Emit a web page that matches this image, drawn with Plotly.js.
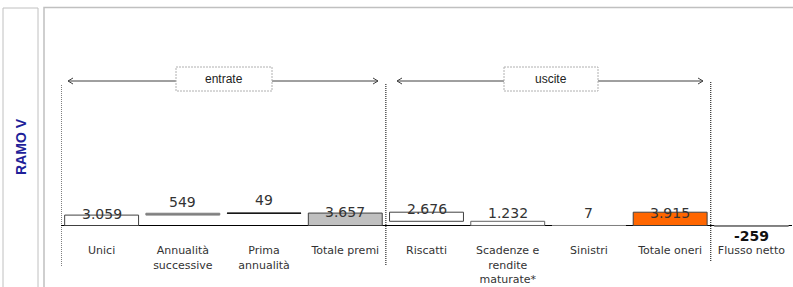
<!DOCTYPE html>
<html>
<head>
<meta charset="utf-8">
<script src="https://cdn.plot.ly/plotly-3.0.1.min.js"></script>
<style>html,body{margin:0;padding:0;background:#fff;}#chart{width:793px;height:287px;}</style>
</head>
<body>
<div id="chart"></div>
<script>
// ---- data ----
const categories = ["Unici", "Annualità<br>successive", "Prima<br>annualità", "Totale premi",
                    "Riscatti", "Scadenze e<br>rendite<br>maturate*", "Sinistri", "Totale oneri", "Flusso netto"];
const values = [3059, 549, 49, 3657, 2676, 1232, 7, 3915, -259];
const valueLabels = ["3.059", "549", "49", "3.657", "2.676", "1.232", "7", "3.915", "-259"];
const groupLabels = ["entrate", "uscite"];
const panelTitle = "RAMO V";

// ---- bases computed waterfall-style ----
const bases = new Array(values.length).fill(0);
let runUp = 0;
for (let i = 0; i < 3; i++) { bases[i] = runUp; runUp += values[i]; }
bases[3] = 0;
let runDown = values[7];
for (let i = 4; i < 7; i++) { runDown -= values[i]; bases[i] = Math.max(runDown, 0); }
bases[7] = 0; bases[8] = 0;

// ---- styles ----
const fills = ['#ffffff','#808080','#000000','#c0c0c0','#ffffff','#ffffff','#808080','#ff6600','#808080'];
const edges = ['#404040','#808080','#000000','#404040','#404040','#606060','#808080','#404040','#808080'];
const labelShift = [1, 11, 13, 1, 3, 8, 12, -1, -10];

const W = 793, H = 287;
const M = {l: 61, r: 1, t: 20, b: 55};
const PW = W - M.l - M.r, PH = H - M.t - M.b;
const px2x = p => (p - M.l) / PW;
const py2y = p => (H - M.b - p) / PH;

const trace = {
  type: 'bar',
  x: categories,
  y: values,
  base: bases,
  marker: {color: fills, line: {color: edges, width: 1}},
  hoverinfo: 'none'
};

const annotations = categories.map((c, i) => {
  const isNeg = values[i] < 0;
  return {
    x: c, y: bases[i] + values[i],
    xref: 'x', yref: 'y', showarrow: false,
    text: isNeg ? '<b>' + valueLabels[i] + '</b>' : valueLabels[i],
    font: {family: 'DejaVu Sans', size: 14, color: isNeg ? '#111' : '#333'},
    xanchor: 'center', yanchor: 'middle', yshift: labelShift[i]
  };
});

// group labels
const boxes = [[176, 67, 272, 91], [504, 67, 598, 91]];
boxes.forEach((b, i) => {
  annotations.push({
    x: px2x((b[0] + b[2]) / 2), y: py2y((b[1] + b[3]) / 2), xref: 'paper', yref: 'paper',
    showarrow: false, text: groupLabels[i],
    font: {family: 'Liberation Sans', size: 12, color: '#222'},
    xanchor: 'center', yanchor: 'middle'
  });
});
annotations.push({
  x: px2x(21), y: py2y(147), xref: 'paper', yref: 'paper', showarrow: false,
  text: '<b>' + panelTitle + '</b>', textangle: -90,
  font: {family: 'Liberation Sans', size: 14, color: '#1f1f99'},
  xanchor: 'center', yanchor: 'middle'
});

const shapes = [];
const pline = (x0, y0, x1, y1, color, width, dash) => shapes.push({
  type: 'line', xref: 'paper', yref: 'paper',
  x0: px2x(x0), y0: py2y(y0), x1: px2x(x1), y1: py2y(y1),
  line: {color: color, width: width, dash: dash || 'solid'}
});
// panels
shapes.push({type: 'rect', xref: 'paper', yref: 'paper', x0: px2x(3), x1: px2x(38), y0: py2y(8), y1: py2y(300),
  line: {color: '#c0c0c0', width: 1}, fillcolor: 'rgba(0,0,0,0)'});
shapes.push({type: 'rect', xref: 'paper', yref: 'paper', x0: px2x(44), x1: px2x(810), y0: py2y(7.5), y1: py2y(300),
  line: {color: '#c0c0c0', width: 1.5}, fillcolor: 'rgba(0,0,0,0)'});
// dotted separators
[[-0.5, 85, 266], [3.5, 84, 265], [7.5, 82, 262]].forEach(d => shapes.push({
  type: 'line', xref: 'x', yref: 'paper', x0: d[0], x1: d[0], y0: py2y(d[1]), y1: py2y(d[2]),
  line: {color: '#000', width: 1, dash: '1px,1px'}
}));
// arrows
[[68, 378], [397, 703]].forEach(a => {
  const y = 81;
  pline(a[0], y, a[1], y, '#404040', 1);
  pline(a[0], y, a[0] + 5, y - 3, '#404040', 1);
  pline(a[0], y, a[0] + 5, y + 3, '#404040', 1);
  pline(a[1], y, a[1] - 5, y - 3, '#404040', 1);
  pline(a[1], y, a[1] - 5, y + 3, '#404040', 1);
});
boxes.forEach(b => shapes.push({
  type: 'rect', xref: 'paper', yref: 'paper', x0: px2x(b[0]), x1: px2x(b[2]), y0: py2y(b[1]), y1: py2y(b[3]),
  fillcolor: '#ffffff', line: {color: '#b0b0b0', width: 1, dash: '2px,1px'}
}));

const layout = {
  width: W, height: H,
  margin: M,
  paper_bgcolor: '#ffffff', plot_bgcolor: 'rgba(0,0,0,0)',
  showlegend: false,
  bargap: 0.09,
  xaxis: {
    type: 'category', range: [-0.5, 8.5], showgrid: false, zeroline: false, showline: false,
    ticks: 'outside', ticklen: 8, tickcolor: 'rgba(0,0,0,0)',
    tickfont: {family: 'DejaVu Sans', size: 11, color: '#333'}, fixedrange: true
  },
  yaxis: {
    range: [-1912, 60441], showgrid: false, showticklabels: false, ticks: '',
    zeroline: true, zerolinecolor: '#000000', zerolinewidth: 1, showline: false, fixedrange: true
  },
  annotations: annotations,
  shapes: shapes
};

Plotly.newPlot('chart', [trace], layout, {displayModeBar: false, staticPlot: true});
</script>
</body>
</html>
